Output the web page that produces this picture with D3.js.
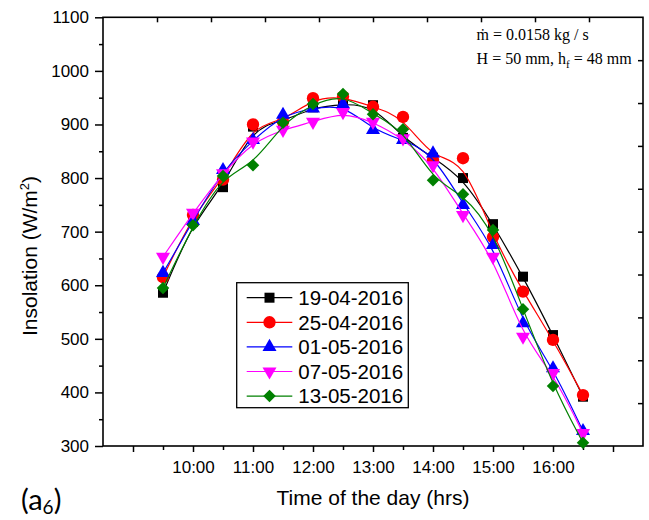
<!DOCTYPE html>
<html>
<head>
<meta charset="utf-8">
<script src="https://cdn.jsdelivr.net/npm/d3@7"></script>
<style>
  html, body { margin: 0; padding: 0; background: #fff; }
  svg { display: block; }
</style>
</head>
<body>
<svg id="chart" width="649" height="520"></svg>
<script>
// Measurement times (hh:mm)
const times = ["9:30", "10:00", "10:30", "11:00", "11:30", "12:00", "12:30", "13:00",
               "13:30", "14:00", "14:30", "15:00", "15:30", "16:00", "16:30"];

// Insolation (W/m²) for each test day
const day19Apr = [586, 718, 783, 896, 905, 932, 938, 936, 875, 838, 800, 714, 616, 507, 392];
const day25Apr = [615, 731, 797, 900, 905, 949, 952, 933, 914, 834, 837, 690, 588, 498, 395];
const day01May = [623, 720, 815, 871, 918, 930, 938, 890, 871, 846, 750, 675, 529, 445, 328];
const day07May = [653, 735, 809, 868, 890, 905, 923, 905, 874, 824, 731, 653, 504, 436, 324];
const day13May = [595, 712, 804, 824, 903, 938, 957, 919, 891, 796, 770, 703, 555, 412, 306];

const seriesNames = ["19-04-2016", "25-04-2016", "01-05-2016", "07-05-2016", "13-05-2016"];

// Axis ticks
const yTicks = [300, 400, 500, 600, 700, 800, 900, 1000, 1100];
const xTickHours = [9, 10, 11, 12, 13, 14, 15, 16, 17];
const xTickLabels = ["", "10:00", "11:00", "12:00", "13:00", "14:00", "15:00", "16:00", ""];

const hour = t => { const [h, m] = t.split(":").map(Number); return h + m / 60; };

const series = [
  { name: seriesNames[0], values: day19Apr, color: "#000000", symbol: "square" },
  { name: seriesNames[1], values: day25Apr, color: "#ff0000", symbol: "circle" },
  { name: seriesNames[2], values: day01May, color: "#0000ff", symbol: "triangle" },
  { name: seriesNames[3], values: day07May, color: "#ff00ff", symbol: "triangleDown" },
  { name: seriesNames[4], values: day13May, color: "#008000", symbol: "diamond" }
];

const svg = d3.select("#chart");
const plotL = 103, plotR = 643, plotT = 17.3, plotB = 446;

const x = d3.scaleLinear().domain([8.5, 17.5]).range([plotL, plotR]);
const y = d3.scaleLinear().domain([300, 1100]).range([plotB, plotT]);

const axisFont = "'Liberation Sans', Arial, sans-serif";

// Marker shapes
function markerPath(kind) {
  switch (kind) {
    case "square": return d3.symbol(d3.symbolSquare, 100)();
    case "circle": return d3.symbol(d3.symbolCircle, 120)();
    case "triangle": return d3.symbol(d3.symbolTriangle, 85)();
    case "triangleDown": return d3.symbol(d3.symbolTriangle, 85)();
    case "diamond": return d3.symbol(d3.symbolSquare, 78)();
  }
}
function markerTransform(kind, px, py) {
  if (kind === "triangleDown") return `translate(${px},${py}) rotate(180)`;
  if (kind === "diamond") return `translate(${px},${py}) rotate(45)`;
  return `translate(${px},${py})`;
}

// Frame
svg.append("rect")
  .attr("x", plotL).attr("y", plotT)
  .attr("width", plotR - plotL).attr("height", plotB - plotT)
  .attr("fill", "none").attr("stroke", "#000").attr("stroke-width", 1.6);

// Bottom axis: hourly majors with labels, half-hour minors
const xMinor = d3.axisBottom(x).tickValues(d3.range(9.5, 17, 1)).tickSize(4).tickFormat("");
svg.append("g").attr("transform", `translate(0,${plotB})`).call(xMinor)
  .call(g => g.select(".domain").remove())
  .call(g => g.selectAll("line").attr("stroke-width", 1.5));

const xAxis = d3.axisBottom(x).tickValues(xTickHours).tickSize(6).tickPadding(9)
  .tickFormat((d, i) => xTickLabels[i]);
svg.append("g").attr("transform", `translate(0,${plotB})`).call(xAxis)
  .call(g => g.select(".domain").remove())
  .call(g => g.selectAll("line").attr("stroke-width", 1.5))
  .call(g => g.selectAll("text").attr("font-family", axisFont).attr("font-size", 17).attr("fill", "#000"));

// Left axis: labelled majors every 100, minors every 50
const yMinor = d3.axisLeft(y).tickValues(d3.range(350, 1100, 100)).tickSize(4).tickFormat("");
svg.append("g").attr("transform", `translate(${plotL},0)`).call(yMinor)
  .call(g => g.select(".domain").remove())
  .call(g => g.selectAll("line").attr("stroke-width", 1.5));

const yAxis = d3.axisLeft(y).tickValues(yTicks).tickSize(8).tickPadding(6).tickFormat(d3.format("d"));
svg.append("g").attr("transform", `translate(${plotL},0)`).call(yAxis)
  .call(g => g.select(".domain").remove())
  .call(g => g.selectAll("line").attr("stroke-width", 1.5))
  .call(g => g.selectAll("text").attr("font-family", axisFont).attr("font-size", 17).attr("fill", "#000"));

// Top and right mirror axes: ten equal divisions, inward ticks
const xTop = d3.scaleLinear().domain([0, 10]).range([plotL, plotR]);
const yRight = d3.scaleLinear().domain([0, 10]).range([plotB, plotT]);
svg.append("g").attr("transform", `translate(0,${plotT})`)
  .call(d3.axisTop(xTop).tickValues(d3.range(1, 10)).tickSize(-5).tickFormat(""))
  .call(g => g.select(".domain").remove())
  .call(g => g.selectAll("line").attr("stroke-width", 1.5));
svg.append("g").attr("transform", `translate(${plotR},0)`)
  .call(d3.axisRight(yRight).tickValues(d3.range(1, 10)).tickSize(-5).tickFormat(""))
  .call(g => g.select(".domain").remove())
  .call(g => g.selectAll("line").attr("stroke-width", 1.5));

// Series: smoothed B-spline lines plus markers
const line = d3.line()
  .x((d, i) => x(hour(times[i])))
  .y(d => y(d))
  .curve(d3.curveBasis);

series.forEach(s => {
  const g = svg.append("g");
  g.append("path").attr("d", line(s.values))
    .attr("fill", "none").attr("stroke", s.color).attr("stroke-width", 1.2);
  g.selectAll("path.mk").data(s.values).join("path").attr("class", "mk")
    .attr("d", markerPath(s.symbol))
    .attr("transform", (d, i) => markerTransform(s.symbol, x(hour(times[i])), y(d)))
    .attr("fill", s.color);
});

// Legend
const legend = svg.append("g");
legend.append("rect").attr("x", 236.7).attr("y", 282.7).attr("width", 171.6).attr("height", 125)
  .attr("fill", "#fff").attr("stroke", "#000").attr("stroke-width", 1.3);
series.forEach((s, i) => {
  const ly = 297.7 + i * 24.6;
  legend.append("line").attr("x1", 246.7).attr("x2", 292.3).attr("y1", ly).attr("y2", ly)
    .attr("stroke", s.color).attr("stroke-width", 1.2);
  legend.append("path").attr("d", markerPath(s.symbol))
    .attr("transform", markerTransform(s.symbol, 269.5, ly)).attr("fill", s.color);
  legend.append("text").attr("x", 298.3).attr("y", ly).attr("dy", "0.36em")
    .attr("font-family", axisFont).attr("font-size", 20.5).text(s.name);
});

// Axis titles
svg.append("text").attr("x", 373).attr("y", 505).attr("text-anchor", "middle")
  .attr("font-family", axisFont).attr("font-size", 21).text("Time of the day (hrs)");

const yTitle = svg.append("text")
  .attr("transform", "translate(37,256) rotate(-90)")
  .attr("text-anchor", "middle")
  .attr("font-family", axisFont).attr("font-size", 21);
yTitle.append("tspan").text("Insolation (W/m");
yTitle.append("tspan").attr("font-size", 13).attr("dy", -8).text("2");
yTitle.append("tspan").attr("dy", 8).text(")");

// Operating conditions
const serif = "'Liberation Serif', 'Times New Roman', serif";
svg.append("text").attr("x", 476.6).attr("y", 40).attr("font-family", serif).attr("font-size", 16)
  .text("ṁ = 0.0158 kg / s");
const cond = svg.append("text").attr("x", 476.6).attr("y", 63.5).attr("font-family", serif).attr("font-size", 16);
cond.append("tspan").text("H = 50 mm, h");
cond.append("tspan").attr("font-size", 11).attr("dy", 4).text("f");
cond.append("tspan").attr("dy", -4).text(" = 48 mm");

// Panel tag
const tag = svg.append("text").attr("x", 21).attr("y", 510)
  .attr("font-family", "Lato, 'Open Sans', sans-serif").attr("font-size", 29);
tag.append("tspan").text("(a");
tag.append("tspan").attr("font-size", 19).attr("dy", 4).text("6");
tag.append("tspan").attr("dy", -4).text(")");
</script>
</body>
</html>
